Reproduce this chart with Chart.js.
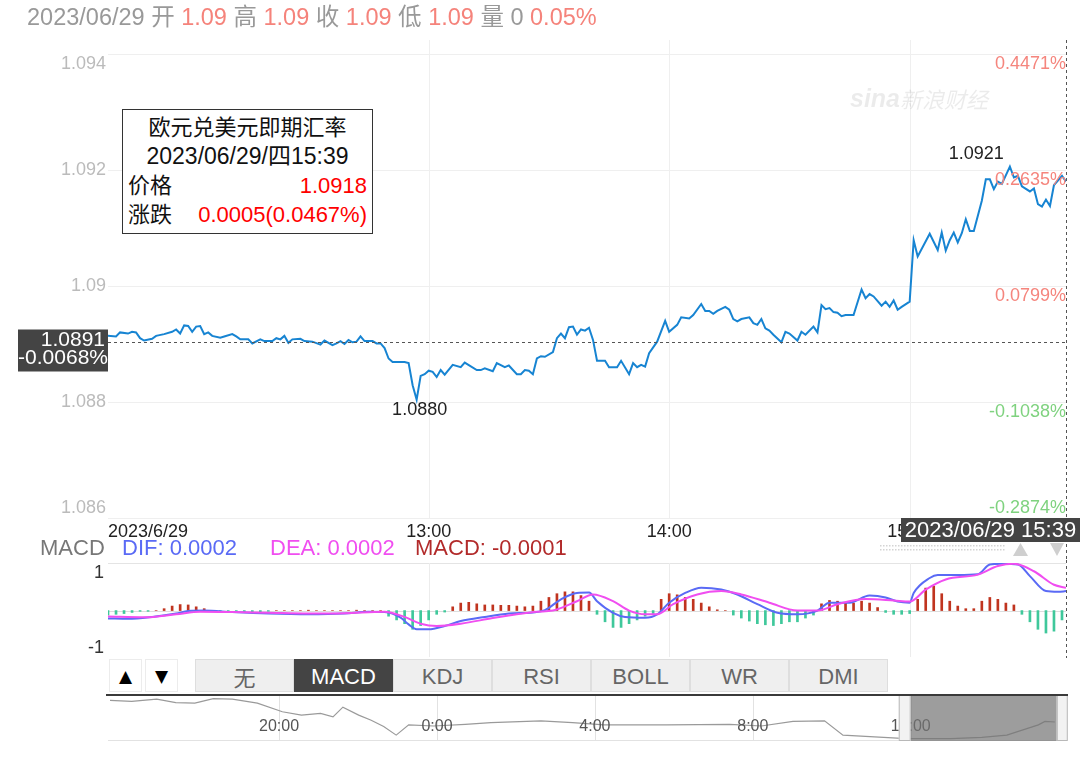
<!DOCTYPE html>
<html><head><meta charset="utf-8">
<script src="https://cdn.jsdelivr.net/npm/chart.js@4.4.1/dist/chart.umd.min.js"></script>
<style>
html,body{margin:0;padding:0;background:#fff;}
body{width:1088px;height:758px;position:relative;overflow:hidden;font-family:"Liberation Sans","Noto Sans CJK SC",sans-serif;}
canvas{position:absolute;left:0;}
#main{top:0;} #macd{top:560px;} #nav{top:694px;}
.t{position:absolute;white-space:nowrap;}
#header{left:27px;top:2px;font-size:23.5px;line-height:30px;color:#999;}
#header .v{color:#f5837b;}
#tip{position:absolute;left:122px;top:109px;width:251px;height:125px;border:1px solid #333;background:#fff;box-sizing:border-box;font-size:22px;line-height:29px;color:#111;padding-top:3px;}
#tip .c{text-align:center;}
#tip .d{text-align:center;font-size:23px;}
#tip .r{display:flex;justify-content:space-between;padding:0 5px 0 5px;}
#tip .red{color:#f00;}
#legend{left:40px;top:535px;font-size:22px;line-height:26px;}
.btn{position:absolute;top:659px;height:33px;box-sizing:border-box;text-align:center;line-height:33px;}
.arrow{background:#fff;border:1px solid #ececec;width:33px;font-family:"DejaVu Sans";font-size:17px;color:#000;}
.tab{background:#efefef;border:1px solid #dedede;width:99px;font-size:22px;color:#666;}
.tab.on{background:#444;color:#fff;border-color:#444;}
</style></head>
<body>
<canvas id="main" width="1088" height="560"></canvas>
<canvas id="macd" width="1088" height="100"></canvas>
<canvas id="nav" width="1088" height="48"></canvas>

<div id="header" class="t">2023/06/29 开 <span class="v">1.09</span> 高 <span class="v">1.09</span> 收 <span class="v">1.09</span> 低 <span class="v">1.09</span> 量 0 <span class="v">0.05%</span></div>

<div id="tip">
  <div class="c">欧元兑美元即期汇率</div>
  <div class="d">2023/06/29/四15:39</div>
  <div class="r"><span>价格</span><span class="red">1.0918</span></div>
  <div class="r"><span>涨跌</span><span class="red">0.0005(0.0467%)</span></div>
</div>

<div id="legend" class="t"><span style="color:#777">MACD</span><span style="position:absolute;left:82px;color:#5a6af5">DIF: 0.0002</span><span style="position:absolute;left:230px;color:#f04ef0">DEA: 0.0002</span><span style="position:absolute;left:375px;color:#b22a2a">MACD: -0.0001</span></div>

<div class="btn arrow" style="left:109px">▲</div>
<div class="btn arrow" style="left:145px">▼</div>
<div id="tabs"></div>

<script>
// ---------- DATA ----------
const priceTimes = [
 '11:40','11:42','11:43','11:45','11:46','11:47','11:48','11:49','11:51','11:52',
 '11:54','11:56','11:57','11:58','11:59','12:00','12:01','12:02','12:03','12:04',
 '12:05','12:06','12:08','12:09','12:11','12:12','12:13','12:15','12:16','12:18',
 '12:19','12:21','12:22','12:23','12:24','12:25','12:26','12:28','12:29','12:31',
 '12:33','12:34','12:36','12:37','12:38','12:39','12:40','12:41','12:42','12:43',
 '12:44','12:46','12:47','12:48','12:49','12:50','12:51','12:53','12:54','12:55',
 '12:56','12:57','12:58','12:59','13:00','13:01','13:02','13:03','13:04','13:06',
 '13:08','13:09','13:12','13:13','13:14','13:16','13:17','13:19','13:20','13:22',
 '13:23','13:24','13:25','13:26','13:27','13:28','13:29','13:31','13:32','13:33',
 '13:34','13:35','13:36','13:37','13:38','13:39','13:40','13:41','13:42','13:44',
 '13:45','13:47','13:48','13:50','13:51','13:52','13:53','13:54','13:55','13:57',
 '13:59','14:00','14:02','14:03','14:05','14:06','14:08','14:09','14:10','14:11',
 '14:12','14:14','14:15','14:16','14:17','14:18','14:20','14:21','14:22','14:23',
 '14:24','14:25','14:26','14:28','14:29','14:30','14:32','14:33','14:34','14:36',
 '14:37','14:38','14:39','14:40','14:41','14:42','14:43','14:44','14:46','14:48',
 '14:49','14:50','14:51','14:53','14:54','14:55','14:56','14:57','14:58','15:00',
 '15:01','15:02','15:05','15:07','15:08','15:09','15:10','15:11','15:12','15:13',
 '15:14','15:15','15:16','15:18','15:19','15:20','15:21','15:22','15:23','15:25',
 '15:26','15:27','15:28','15:30','15:31','15:32','15:33','15:34','15:35','15:36',
 '15:38','15:39'];
const prices = [
 1.08914,1.08913,1.08920,1.08918,1.08921,1.08920,1.08910,1.08906,1.08909,1.08914,
 1.08917,1.08921,1.08925,1.08918,1.08932,1.08931,1.08921,1.08930,1.08931,1.08917,
 1.08920,1.08914,1.08911,1.08913,1.08917,1.08913,1.08908,1.08908,1.08901,1.08908,
 1.08905,1.08905,1.08910,1.08908,1.08914,1.08902,1.08908,1.08909,1.08905,1.08904,
 1.08899,1.08906,1.08898,1.08901,1.08905,1.08900,1.08907,1.08903,1.08904,1.08913,
 1.08905,1.08905,1.08901,1.08901,1.08893,1.08875,1.08869,1.08869,1.08869,1.08867,
 1.08829,1.08804,1.08845,1.08848,1.08854,1.08852,1.08843,1.08855,1.08847,1.08864,
 1.08860,1.08868,1.08855,1.08855,1.08858,1.08853,1.08867,1.08860,1.08863,1.08848,
 1.08848,1.08855,1.08854,1.08848,1.08875,1.08879,1.08878,1.08886,1.08910,1.08918,
 1.08910,1.08929,1.08930,1.08916,1.08925,1.08923,1.08928,1.08907,1.08871,1.08871,
 1.08860,1.08860,1.08871,1.08848,1.08867,1.08860,1.08864,1.08861,1.08884,1.08904,
 1.08940,1.08921,1.08933,1.08946,1.08944,1.08950,1.08969,1.08957,1.08957,1.08952,
 1.08957,1.08964,1.08959,1.08943,1.08939,1.08943,1.08946,1.08936,1.08933,1.08943,
 1.08927,1.08923,1.08916,1.08903,1.08921,1.08918,1.08906,1.08921,1.08916,1.08930,
 1.08920,1.08967,1.08960,1.08962,1.08955,1.08954,1.08948,1.08950,1.08950,1.08994,
 1.08979,1.08986,1.08982,1.08966,1.08973,1.08964,1.08975,1.08959,1.08964,1.08973,
 1.09079,1.09051,1.09090,1.09062,1.09092,1.09061,1.09079,1.09092,1.09075,1.09091,
 1.09115,1.09095,1.09095,1.09147,1.09184,1.09184,1.09167,1.09180,1.09176,1.09206,
 1.09187,1.09190,1.09172,1.09163,1.09168,1.09141,1.09137,1.09149,1.09138,1.09174,
 1.09190,1.09180];

const yTicks = [1.086, 1.088, 1.09, 1.092, 1.094];
const pctLabels = ['-0.2874%','-0.1038%','0.0799%','0.2635%','0.4471%'];
const xLabelTimes = ['11:40','13:00','14:00','15:00'];
const xLabelTexts = ['2023/6/29','13:00','14:00','15:00'];
const xGridTimes = ['13:00','14:00','15:00'];
const xStart = '11:40', xEnd = '15:39';
const yMin = 1.086, yMax = 1.094241;
const crossPrice = 1.08904, crossTime = '15:39';
const crossLabel = '1.0891', crossPct = '-0.0068%';
const crossTimeLabel = '2023/06/29 15:39';

const difTimes = ['11:40','11:45','11:51','11:57','12:00','12:04','12:11','12:20','12:30','12:39',
 '12:45','12:49','12:53','12:55','12:57','13:00','13:04','13:08','13:14','13:20',
 '13:26','13:29','13:33','13:37','13:40','13:42','13:46','13:49','13:54','13:57',
 '14:00','14:04','14:08','14:13','14:17','14:22','14:27','14:32','14:37','14:40',
 '14:45','14:50','14:54','14:57','15:00','15:01','15:05','15:07','15:12','15:17',
 '15:20','15:23','15:27','15:30','15:34','15:37','15:39'];
const difValues = [-0.21,-0.22,-0.17,-0.08,-0.01,0.0,-0.04,-0.08,-0.10,-0.08,
 -0.03,-0.04,-0.19,-0.37,-0.50,-0.50,-0.41,-0.28,-0.17,-0.08,
 -0.05,0.01,0.30,0.47,0.48,0.25,-0.06,-0.17,-0.19,-0.10,
 0.21,0.47,0.61,0.56,0.43,0.17,-0.06,-0.10,0.0,0.21,
 0.21,0.40,0.35,0.24,0.21,0.47,0.87,0.95,0.95,0.97,
 1.23,1.25,1.23,0.92,0.52,0.50,0.52];
const deaTimes = ['11:40','11:49','11:57','12:03','12:11','12:20','12:30','12:39','12:49','12:54',
 '12:58','13:02','13:08','13:16','13:22','13:27','13:31','13:37','13:41','13:46',
 '13:50','13:54','13:57','14:01','14:07','14:13','14:18','14:25','14:32','14:37',
 '14:42','14:49','14:56','15:00','15:04','15:09','15:17','15:22','15:26','15:31',
 '15:36','15:39'];
const deaValues = [-0.16,-0.18,-0.10,-0.03,-0.04,-0.06,-0.08,-0.07,-0.03,-0.17,
 -0.35,-0.41,-0.35,-0.20,-0.10,-0.03,0.0,0.25,0.43,0.25,
 0.0,-0.10,-0.10,0.17,0.43,0.52,0.43,0.21,0.0,0.0,
 0.17,0.31,0.27,0.24,0.56,0.83,0.96,1.19,1.25,1.05,
 0.69,0.61];
const histStart = '11:40', histStepMin = 2;
const histValues = [
 -0.12,-0.10,-0.08,-0.05,-0.02,-0.02,0,0.05,0.12,0.16,
 0.15,0.10,0.05,0,-0.04,-0.05,-0.05,-0.04,-0.05,-0.04,
 -0.02,0,0,0,0,0.01,0,0,0,0,
 0,0.01,0,0,0,-0.15,-0.25,-0.35,-0.5,-0.4,
 -0.25,-0.1,-0.04,0.1,0.2,0.22,0.18,0.15,0.15,0.14,
 0.14,0.12,0.1,0.12,0.25,0.35,0.45,0.5,0.5,0.4,
 0.25,-0.1,-0.3,-0.45,-0.45,-0.35,-0.25,-0.15,-0.08,0.3,
 0.45,0.42,0.35,0.3,0.2,0.1,0.02,0,-0.12,-0.2,
 -0.28,-0.35,-0.38,-0.4,-0.35,-0.3,-0.3,-0.2,-0.12,0.18,
 0.27,0.25,0.22,0.2,0.25,0.2,0.08,-0.05,-0.1,-0.1,
 -0.08,0.3,0.6,0.65,0.45,0.25,0.12,0.05,0.05,0.25,
 0.35,0.3,0.2,0.15,-0.1,-0.3,-0.5,-0.6,-0.55,-0.25];
const macdYMin = -1.24, macdYMax = 1.27;
const macdTicks = [1, -1];

const navTimes = ['28 15:43','28 16:16','28 16:54','28 17:23','28 17:52','28 18:20','28 18:49','28 19:27','28 20:05','28 20:34',
 '28 21:03','28 21:22','28 21:37','28 22:01','28 22:20','28 22:39','28 22:58','28 23:17','28 23:55','29 00:43',
 '29 01:22','29 02:38','29 03:26','29 04:14','29 05:49','29 07:25','29 08:13','29 09:01','29 09:49','29 10:17',
 '29 11:05','29 11:53','29 13:01','29 13:48','29 14:26','29 15:14','29 15:24','29 15:39'];
const navValues = [1.0956,1.0954,1.0958,1.0952,1.0951,1.0959,1.0958,1.0951,1.0936,1.0930,
 1.0933,1.0927,1.0944,1.0930,1.0921,1.0910,1.0895,1.0913,1.0911,1.0914,
 1.0917,1.0920,1.0917,1.0913,1.0913,1.0914,1.0911,1.0919,1.0920,1.0895,
 1.0892,1.0889,1.0889,1.0891,1.0895,1.0913,1.0919,1.0918];
const navStart = '28 15:40', navEnd = '29 15:56';
const navWindow = ['29 12:00','29 15:42'];
const navGridTimes = ['28 20:00','29 00:00','29 04:00','29 08:00','29 12:00'];
const navGridLabels = ['20:00','0:00','4:00','8:00','12:00'];
const navYMin = 1.08847, navYMax = 1.09653;

const tabNames = ['无','MACD','KDJ','RSI','BOLL','WR','DMI'];
const activeTab = 'MACD';

// ---------- HELPERS ----------
const toMin = s => { const [h,m] = s.split(':').map(Number); return h*60+m; };
const navH = s => { const [d,hm] = s.split(' '); const [h,m] = hm.split(':').map(Number); return (Number(d)-29)*24 + h + m/60; };
const FONT = '"Liberation Sans", Arial, sans-serif';

// tabs
const tabsEl = document.getElementById('tabs');
tabNames.forEach((n,i)=>{
  const d = document.createElement('div');
  d.className = 'btn tab' + (n===activeTab?' on':'');
  d.style.left = (195 + i*99) + 'px';
  d.textContent = n;
  if (n==='无') d.style.fontFamily = '"Noto Sans CJK SC", sans-serif';
  tabsEl.appendChild(d);
});

// ---------- MAIN CHART ----------
const mainDecor = {
  id: 'mainDecor',
  beforeDatasetsDraw(chart){
    const {ctx, chartArea:a, scales:{x,y}} = chart;
    ctx.save();
    ctx.lineWidth = 1;
    ctx.strokeStyle = '#efefef';
    yTicks.forEach(v=>{ const py = Math.round(y.getPixelForValue(v))+0.5; ctx.beginPath(); ctx.moveTo(a.left,py); ctx.lineTo(a.right,py); ctx.stroke(); });
    xGridTimes.forEach(t=>{ const px = Math.round(x.getPixelForValue(toMin(t)))+0.5; ctx.beginPath(); ctx.moveTo(px,a.top); ctx.lineTo(px,a.bottom); ctx.stroke(); });
    // watermark
    ctx.fillStyle = 'rgba(0,0,0,0.08)';
    ctx.textBaseline = 'middle'; ctx.textAlign = 'left';
    ctx.font = 'italic bold 25px ' + FONT;
    ctx.fillText('sina', 850, 100);
    ctx.font = 'italic 22px "Noto Sans CJK SC", sans-serif';
    ctx.fillText('新浪财经', 900, 100);
    ctx.restore();
  },
  afterDatasetsDraw(chart){
    const {ctx, chartArea:a, scales:{x,y}} = chart;
    ctx.save();
    // crosshair
    ctx.setLineDash([3,3]); ctx.strokeStyle = '#555'; ctx.lineWidth = 1;
    const cy = Math.round(y.getPixelForValue(crossPrice))+0.5;
    ctx.beginPath(); ctx.moveTo(a.left,cy); ctx.lineTo(a.right,cy); ctx.stroke();
    const cx = Math.round(x.getPixelForValue(toMin(crossTime)))+0.5;
    ctx.beginPath(); ctx.moveTo(cx,a.top); ctx.lineTo(cx,chart.height); ctx.stroke();
    ctx.setLineDash([]);
    // left tick labels
    ctx.font = '18px ' + FONT; ctx.textBaseline = 'middle';
    ctx.textAlign = 'right'; ctx.fillStyle = '#bbb';
    yTicks.forEach((v,i)=>{
      let py = y.getPixelForValue(v);
      if (i===yTicks.length-1) py += 10; else if (i===0) py -= 10;
      ctx.fillText(String(v), 106, py);
    });
    // right percent labels
    yTicks.forEach((v,i)=>{
      let py = y.getPixelForValue(v);
      py += (i===0) ? -10 : 10;
      ctx.fillStyle = pctLabels[i].startsWith('-') ? '#7fd27f' : '#f5857d';
      ctx.fillText(pctLabels[i], a.right, py);
    });
    // x labels
    ctx.fillStyle = '#222';
    xLabelTimes.forEach((t,i)=>{
      const px = x.getPixelForValue(toMin(t));
      ctx.textAlign = i===0 ? 'left' : 'center';
      ctx.fillText(xLabelTexts[i], i===0 ? a.left : px, a.bottom + 14);
    });
    // max / min annotations
    let iMax = 0, iMin = 0;
    prices.forEach((v,i)=>{ if (v>prices[iMax]) iMax=i; if (v<prices[iMin]) iMin=i; });
    ctx.fillStyle = '#222';
    const mxX = x.getPixelForValue(toMin(priceTimes[iMax])), mxY = y.getPixelForValue(prices[iMax]);
    ctx.textAlign = 'right'; ctx.fillText(prices[iMax].toFixed(4), mxX - 6, mxY - 12);
    const mnX = x.getPixelForValue(toMin(priceTimes[iMin])), mnY = y.getPixelForValue(prices[iMin]);
    ctx.textAlign = 'center'; ctx.fillText(prices[iMin].toFixed(4), mnX + 3, mnY + 10);
    // crosshair price box
    ctx.fillStyle = '#444';
    ctx.fillRect(18, cy - 13, 90, 42);
    ctx.fillStyle = '#fff'; ctx.font = '21px ' + FONT; ctx.textAlign = 'right';
    ctx.fillText(crossLabel, 105, cy - 2);
    ctx.fillText(crossPct, 108, cy + 16);
    // crosshair time box
    ctx.fillStyle = '#444';
    ctx.fillRect(901, a.bottom, 179, 24);
    ctx.fillStyle = '#fff'; ctx.font = '22px ' + FONT; ctx.textAlign = 'center';
    ctx.fillText(crossTimeLabel, 990.5, a.bottom + 12.5);
    // dotted strip + arrows
    ctx.fillStyle = '#d4d4d4';
    for (let px = 880; px < 1004; px += 3) { ctx.fillRect(px, 545, 1.5, 1.5); ctx.fillRect(px, 549, 1.5, 1.5); }
    ctx.fillStyle = '#cfcfcf';
    ctx.beginPath(); ctx.moveTo(1020.5,543); ctx.lineTo(1028,556); ctx.lineTo(1013,556); ctx.closePath(); ctx.fill();
    ctx.beginPath(); ctx.moveTo(1050,543); ctx.lineTo(1064,543); ctx.lineTo(1057,556); ctx.closePath(); ctx.fill();
    ctx.restore();
  }
};

new Chart(document.getElementById('main'), {
  type: 'line',
  data: { datasets: [{
    data: prices.map((v,i)=>({x: toMin(priceTimes[i]), y: v})),
    borderColor: '#1784d2', borderWidth: 2, pointRadius: 0, tension: 0, fill: false
  }]},
  options: {
    responsive: false, animation: false, devicePixelRatio: 1, events: [],
    layout: { padding: { left: 108, right: 22, top: 40, bottom: 42 } },
    plugins: { legend: { display: false }, tooltip: { enabled: false } },
    scales: {
      x: { type: 'linear', display: false, min: toMin(xStart), max: toMin(xEnd) },
      y: { display: false, min: yMin, max: yMax }
    }
  },
  plugins: [mainDecor]
});

// ---------- MACD CHART ----------
const macdDecor = {
  id: 'macdDecor',
  beforeDatasetsDraw(chart){
    const {ctx, chartArea:a, scales:{x,y}} = chart;
    ctx.save(); ctx.lineWidth = 1;
    ctx.strokeStyle = '#e4e4e4';
    ctx.beginPath(); ctx.moveTo(a.left, a.top+0.5); ctx.lineTo(a.right, a.top+0.5); ctx.stroke();
    ctx.strokeStyle = '#ececec';
    xGridTimes.forEach(t=>{ const px = Math.round(x.getPixelForValue(toMin(t)))+0.5; ctx.beginPath(); ctx.moveTo(px,a.top); ctx.lineTo(px,a.bottom); ctx.stroke(); });
    ctx.strokeStyle = '#dddddd';
    const zy = Math.round(y.getPixelForValue(0))+0.5;
    ctx.beginPath(); ctx.moveTo(a.left, zy); ctx.lineTo(a.right, zy); ctx.stroke();
    ctx.fillStyle = '#333'; ctx.font = '18px ' + FONT; ctx.textAlign = 'right'; ctx.textBaseline = 'middle';
    macdTicks.forEach(v=> ctx.fillText(String(v), 104, y.getPixelForValue(v)));
    ctx.restore();
  },
  afterDatasetsDraw(chart){
    const {ctx, chartArea:a, scales:{x}} = chart;
    ctx.save(); ctx.setLineDash([3,3]); ctx.strokeStyle = '#555'; ctx.lineWidth = 1;
    const cx = Math.round(x.getPixelForValue(toMin(crossTime)))+0.5;
    ctx.beginPath(); ctx.moveTo(cx, 0); ctx.lineTo(cx, a.bottom+1); ctx.stroke();
    ctx.restore();
  }
};

new Chart(document.getElementById('macd'), {
  type: 'bar',
  data: { datasets: [
    { type: 'line', order: 1, data: difValues.map((v,i)=>({x: toMin(difTimes[i]), y: v})),
      borderColor: '#5a6af5', borderWidth: 2, pointRadius: 0, tension: 0.4, cubicInterpolationMode: 'monotone' },
    { type: 'line', order: 0, data: deaValues.map((v,i)=>({x: toMin(deaTimes[i]), y: v})),
      borderColor: '#f04ef0', borderWidth: 2, pointRadius: 0, tension: 0.4, cubicInterpolationMode: 'monotone' },
    { type: 'bar', order: 2, data: histValues.map((v,i)=>({x: toMin(histStart) + i*histStepMin, y: v})),
      backgroundColor: histValues.map(v => v >= 0 ? '#c0341f' : '#3fc89b'), barThickness: 2 }
  ]},
  options: {
    responsive: false, animation: false, devicePixelRatio: 1, events: [],
    layout: { padding: { left: 108, right: 22, top: 3, bottom: 3 } },
    plugins: { legend: { display: false }, tooltip: { enabled: false } },
    scales: {
      x: { type: 'linear', display: false, offset: false, min: toMin(xStart), max: toMin(xEnd) },
      y: { display: false, min: macdYMin, max: macdYMax }
    }
  },
  plugins: [macdDecor]
});

// ---------- NAVIGATOR ----------
const navDecor = {
  id: 'navDecor',
  beforeDatasetsDraw(chart){
    const {ctx, chartArea:a, scales:{x}} = chart;
    ctx.save(); ctx.lineWidth = 1; ctx.strokeStyle = '#e2e2e2';
    navGridTimes.forEach(t=>{ const px = Math.round(x.getPixelForValue(navH(t)))+0.5; ctx.beginPath(); ctx.moveTo(px,a.top); ctx.lineTo(px,a.bottom); ctx.stroke(); });
    ctx.beginPath(); ctx.moveTo(a.left, a.bottom-0.5); ctx.lineTo(a.right, a.bottom-0.5); ctx.stroke();
    ctx.restore();
  },
  afterDatasetsDraw(chart){
    const {ctx, chartArea:a, scales:{x}} = chart;
    ctx.save();
    ctx.fillStyle = '#555'; ctx.font = '16px ' + FONT; ctx.textAlign = 'center'; ctx.textBaseline = 'middle';
    navGridTimes.forEach((t,i)=> ctx.fillText(navGridLabels[i], x.getPixelForValue(navH(t)), 33));
    const wl = x.getPixelForValue(navH(navWindow[0])), wr = x.getPixelForValue(navH(navWindow[1]));
    ctx.fillStyle = 'rgba(115,115,115,0.7)';
    ctx.fillRect(wl, a.top, wr - wl, a.bottom - a.top);
    // handles
    ctx.fillStyle = '#f2f2f2'; ctx.strokeStyle = '#b8b8b8';
    ctx.fillRect(wl - 12, a.top, 12, a.bottom - a.top); ctx.strokeRect(wl - 11.5, a.top + 0.5, 11, a.bottom - a.top - 1);
    ctx.fillRect(wr, a.top, 11, a.bottom - a.top); ctx.strokeRect(wr + 0.5, a.top + 0.5, 10, a.bottom - a.top - 1);
    // top border
    ctx.fillStyle = '#3a3a3a';
    ctx.fillRect(106, 0, 962, 2);
    ctx.restore();
  }
};

new Chart(document.getElementById('nav'), {
  type: 'line',
  data: { datasets: [{
    data: navValues.map((v,i)=>({x: navH(navTimes[i]), y: v})),
    borderColor: '#9a9a9a', borderWidth: 1.2, pointRadius: 0, tension: 0, fill: false
  }]},
  options: {
    responsive: false, animation: false, devicePixelRatio: 1, events: [],
    layout: { padding: { left: 108, right: 22, top: 1, bottom: 1 } },
    plugins: { legend: { display: false }, tooltip: { enabled: false } },
    scales: {
      x: { type: 'linear', display: false, min: navH(navStart), max: navH(navEnd) },
      y: { display: false, min: navYMin, max: navYMax }
    }
  },
  plugins: [navDecor]
});
</script>
</body></html>
